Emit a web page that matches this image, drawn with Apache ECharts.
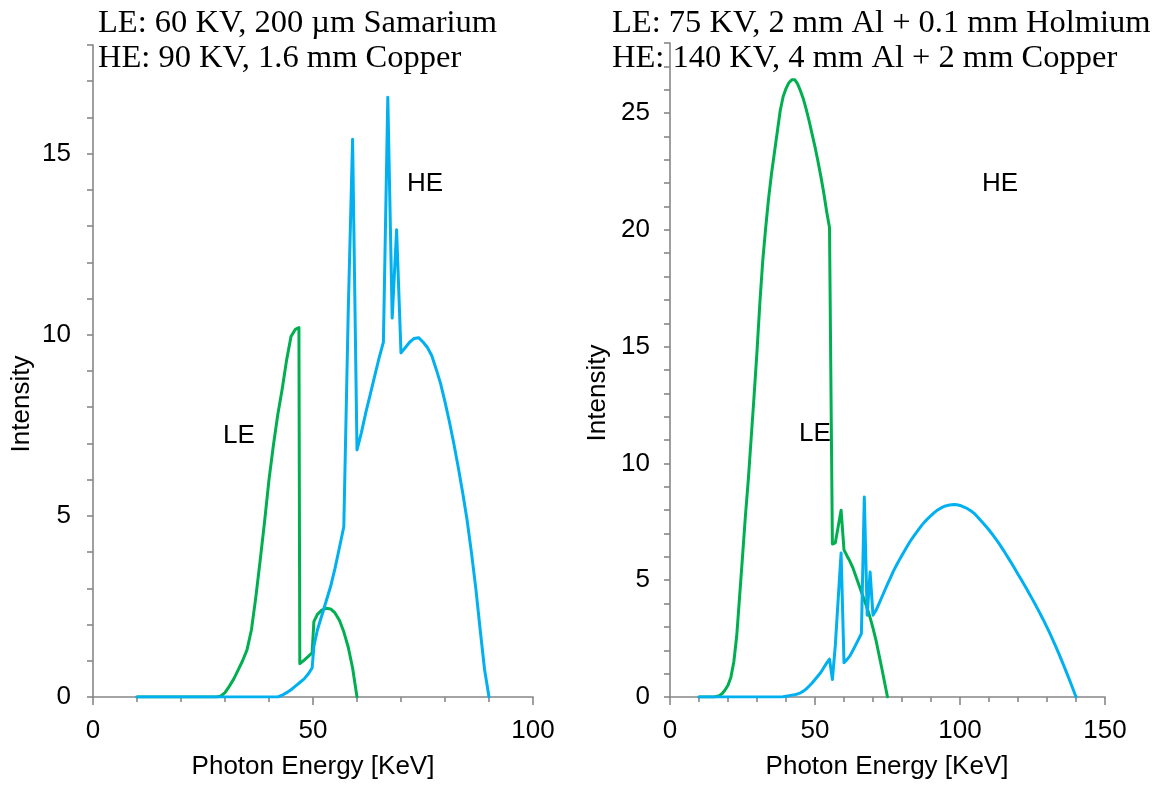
<!DOCTYPE html>
<html>
<head>
<meta charset="utf-8">
<script src="https://cdn.jsdelivr.net/npm/echarts@6/dist/echarts.min.js"></script>
<style>
  html, body { margin: 0; padding: 0; background: #fff; }
  #chart { width: 1162px; height: 788px; }
</style>
</head>
<body>
<div id="chart"></div>
<script>
// Left panel: 60 KV / 90 KV spectra
const leftLeEnergy = [10, 28, 29, 30, 31, 32, 33, 34, 35, 36, 37, 38, 39, 40, 41, 42, 43, 44, 45, 46, 46.8, 47, 48, 49, 49.8, 50.2, 51, 52, 53, 54, 55, 56, 57, 58, 59, 60];
const leftLeIntensity = [0, 0, 0.02, 0.12, 0.3, 0.5, 0.75, 1.0, 1.3, 1.85, 2.75, 3.78, 4.85, 6.0, 6.95, 7.8, 8.5, 9.3, 9.95, 10.15, 10.2, 0.92, 1.02, 1.13, 1.22, 2.08, 2.28, 2.4, 2.45, 2.43, 2.32, 2.12, 1.8, 1.38, 0.8, 0];

const leftHeEnergy = [10, 42, 43, 44, 45, 46, 47, 48, 49, 49.8, 50.2, 51, 52, 53, 54, 55, 56, 57, 58, 59, 60, 61, 62, 63, 64, 65, 66, 67, 68, 69, 70, 71, 72, 73, 74, 75, 76, 77, 78, 79, 80, 81, 82, 83, 84, 85, 86, 87, 88, 89, 90];
const leftHeIntensity = [0, 0, 0.05, 0.12, 0.2, 0.3, 0.4, 0.5, 0.65, 0.8, 1.4, 1.85, 2.25, 2.65, 3.05, 3.55, 4.12, 4.7, 10.6, 15.4, 6.82, 7.3, 7.85, 8.35, 8.85, 9.35, 9.8, 16.56, 10.46, 12.9, 9.5, 9.65, 9.8, 9.9, 9.92, 9.8, 9.65, 9.42, 9.05, 8.65, 8.15, 7.6, 7.0, 6.35, 5.65, 4.9, 4.0, 3.0, 1.85, 0.75, 0];

// Right panel: 75 KV / 140 KV spectra
const rightLeEnergy = [10, 15, 16, 17, 18, 19, 20, 21, 22, 23, 24, 25, 26, 27, 28, 29, 30, 31, 32, 33, 34, 35, 36, 37, 38, 39, 40, 41, 42, 43, 44, 45, 46, 47, 48, 49, 50, 51, 52, 53, 54, 55, 56, 57, 58, 59, 60, 61, 62, 63, 64, 65, 66, 67, 68, 69, 70, 71, 72, 73, 74, 75];
const rightLeIntensity = [0, 0, 0.02, 0.06, 0.15, 0.3, 0.5, 0.85, 1.5, 2.6, 4.3, 6.0, 7.75, 9.3, 11.1, 12.9, 14.8, 16.9, 18.7, 20.1, 21.35, 22.4, 23.3, 24.2, 25.1, 25.7, 26.05, 26.3, 26.43, 26.43, 26.25, 25.95, 25.6, 25.15, 24.65, 24.1, 23.55, 22.95, 22.3, 21.6, 20.8, 20.1, 6.55, 6.6, 7.3, 8.0, 6.3, 6.05, 5.82, 5.55, 5.2, 4.85, 4.5, 4.15, 3.8, 3.4, 2.95, 2.45, 1.85, 1.25, 0.62, 0];

const rightHeEnergy = [10, 38, 39, 40, 41, 42, 43, 44, 45, 46, 47, 48, 49, 50, 51, 52, 53, 54, 55, 56, 57, 58, 59, 60, 61, 62, 63, 64, 65, 66, 67, 68, 69, 70, 71, 72, 73, 74, 75, 76, 77, 78, 79, 80, 81, 82, 83, 84, 85, 86, 87, 88, 89, 90, 91, 92, 93, 94, 95, 96, 97, 98, 99, 100, 101, 102, 103, 104, 105, 106, 107, 108, 109, 110, 111, 112, 113, 114, 115, 116, 117, 118, 119, 120, 121, 122, 123, 124, 125, 126, 127, 128, 129, 130, 131, 132, 133, 134, 135, 136, 137, 138, 139, 140];
const rightHeIntensity = [0, 0, 0.01, 0.03, 0.05, 0.08, 0.1, 0.13, 0.18, 0.25, 0.35, 0.47, 0.6, 0.75, 0.9, 1.05, 1.25, 1.45, 1.62, 0.75, 2.2, 4.2, 6.17, 1.47, 1.6, 1.75, 1.98, 2.22, 2.47, 2.72, 8.56, 3.5, 5.35, 3.5, 3.7, 3.98, 4.26, 4.55, 4.83, 5.1, 5.38, 5.62, 5.85, 6.07, 6.28, 6.5, 6.7, 6.88, 7.05, 7.22, 7.38, 7.52, 7.65, 7.77, 7.88, 7.98, 8.06, 8.13, 8.18, 8.21, 8.23, 8.24, 8.23, 8.2, 8.15, 8.1, 8.03, 7.95, 7.85, 7.72, 7.58, 7.44, 7.3, 7.15, 6.99, 6.82, 6.65, 6.47, 6.28, 6.08, 5.88, 5.68, 5.47, 5.26, 5.05, 4.84, 4.62, 4.4, 4.18, 3.95, 3.72, 3.48, 3.24, 2.98, 2.72, 2.45, 2.17, 1.88, 1.58, 1.28, 0.97, 0.65, 0.33, 0];

// Panel captions and axis texts
const leftCaption = ['LE: 60 KV, 200 µm Samarium', 'HE: 90 KV, 1.6 mm Copper'];
const rightCaption = ['LE: 75 KV, 2 mm Al + 0.1 mm Holmium', 'HE: 140 KV, 4 mm Al + 2 mm Copper'];
const xAxisTitle = 'Photon Energy [KeV]';
const yAxisTitle = 'Intensity';
const leftXRange = [0, 100];
const rightXRange = [0, 150];
const leftYRange = [0, 18];
const rightYRange = [0, 28];

const GREEN = '#00B050';
const BLUE = '#00B0F0';
const AXIS_GRAY = '#878787';
const SANS = 'Liberation Sans, Arial, sans-serif';
const SERIF = 'Liberation Serif, Times New Roman, serif';

function zip(xs, ys) { return xs.map((x, i) => [x, ys[i]]); }

function xAxisFor(gridIndex, range) {
  return {
    type: 'value', gridIndex, min: range[0], max: range[1], interval: 50,
    axisLine: { show: true, onZero: false, lineStyle: { color: AXIS_GRAY, width: 1.6 } },
    axisTick: { show: true, length: 8, lineStyle: { color: AXIS_GRAY, width: 1.6 } },
    minorTick: { show: true, splitNumber: 5, length: 5, lineStyle: { color: AXIS_GRAY, width: 1.6 } },
    splitLine: { show: false },
    axisLabel: { color: '#000', fontFamily: SANS, fontSize: 26, margin: 21 }
  };
}

function yAxisFor(gridIndex, range, margin) {
  return {
    type: 'value', gridIndex, min: range[0], max: range[1], interval: 1,
    axisLine: { show: true, onZero: false, lineStyle: { color: AXIS_GRAY, width: 1.6 } },
    axisTick: { show: true, length: 6, lineStyle: { color: AXIS_GRAY, width: 1.6 } },
    splitLine: { show: false },
    axisLabel: {
      color: '#000', fontFamily: SANS, fontSize: 26, margin,
      formatter: v => (v % 5 === 0 ? String(v) : '')
    }
  };
}

function lineSeries(idx, color, data) {
  return {
    type: 'line', xAxisIndex: idx, yAxisIndex: idx, data,
    showSymbol: false, symbol: 'none', smooth: false,
    lineStyle: { color, width: 3, join: 'round', cap: 'round' }, itemStyle: { color },
    emphasis: { disabled: true }
  };
}

function label(text, x, y, opts) {
  return Object.assign({
    type: 'text', x, y, silent: true,
    style: { text, fill: '#000', font: '26px ' + SANS, textAlign: 'center', textVerticalAlign: 'middle' }
  }, opts || {});
}

function caption(lines, x, y0) {
  return lines.map((t, i) => ({
    type: 'text', x, y: y0 + i * 35, silent: true,
    style: { text: t, fill: '#000', font: '32.5px ' + SERIF, textAlign: 'left', textVerticalAlign: 'middle' }
  }));
}

const chart = echarts.init(document.getElementById('chart'), null, { renderer: 'canvas' });
chart.setOption({
  animation: false,
  backgroundColor: '#fff',
  grid: [
    { left: 93, top: 45, width: 440, height: 652 },
    { left: 670, top: 43, width: 435, height: 654 }
  ],
  xAxis: [xAxisFor(0, leftXRange), xAxisFor(1, rightXRange)],
  yAxis: [yAxisFor(0, leftYRange, 22), yAxisFor(1, rightYRange, 20)],
  series: [
    lineSeries(0, GREEN, zip(leftLeEnergy, leftLeIntensity)),
    lineSeries(0, BLUE, zip(leftHeEnergy, leftHeIntensity)),
    lineSeries(1, GREEN, zip(rightLeEnergy, rightLeIntensity)),
    lineSeries(1, BLUE, zip(rightHeEnergy, rightHeIntensity))
  ],
  graphic: [
    ...caption(leftCaption, 98, 23),
    ...caption(rightCaption, 612, 23),
    label('LE', 239, 436),
    label('HE', 425, 184),
    label('HE', 1000, 184),
    label('LE', 815, 434),
    label(xAxisTitle, 313, 767),
    label(xAxisTitle, 887, 767),
    label(yAxisTitle, 22, 404, { rotation: Math.PI / 2 }),
    label(yAxisTitle, 598, 393, { rotation: Math.PI / 2 })
  ]
});
</script>
</body>
</html>
